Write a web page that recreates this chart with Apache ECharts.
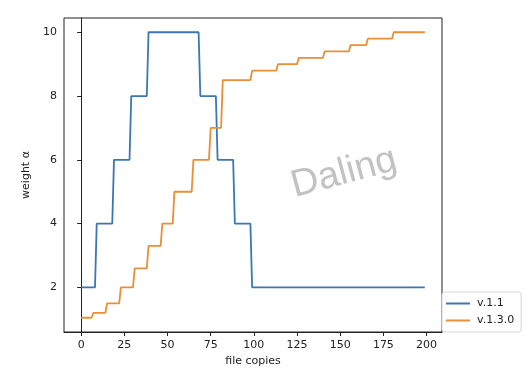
<!DOCTYPE html>
<html>
<head>
<meta charset="utf-8">
<script src="https://cdn.jsdelivr.net/npm/echarts@6/dist/echarts.min.js"></script>
<style>
  html, body { margin: 0; padding: 0; background: #fff; }
  #chart { width: 532px; height: 378px; }
</style>
</head>
<body>
<div id="chart"></div>
<script>
// breakpoints of the two step-like curves (x = file copies, y = weight)
const v11X = [0, 8, 9, 18, 19, 28, 29, 38, 39, 68, 69, 78, 79, 88, 89, 98, 99, 199];
const v11Y = [2, 2, 4, 4, 6, 6, 8, 8, 10, 10, 8, 8, 6, 6, 4, 4, 2, 2];

const v130X = [0, 6, 7, 14, 15, 22, 23, 30, 31, 38, 39, 46, 47, 53, 54, 64, 65, 74, 75, 81, 82,
               98, 99, 113, 114, 125, 126, 140, 141, 155, 156, 165, 166, 180, 181, 199];
const v130Y = [1.05, 1.05, 1.2, 1.2, 1.5, 1.5, 2.0, 2.0, 2.6, 2.6, 3.3, 3.3, 4.0, 4.0, 5.0, 5.0, 6.0, 6.0, 7.0, 7.0, 8.5,
               8.5, 8.8, 8.8, 9.0, 9.0, 9.2, 9.2, 9.4, 9.4, 9.6, 9.6, 9.8, 9.8, 10.0, 10.0];

const xTicks = [0, 25, 50, 75, 100, 125, 150, 175, 200];
const yTicks = [2, 4, 6, 8, 10];
const seriesNames = ['v.1.1', 'v.1.3.0'];

const zip = (xs, ys) => xs.map((x, i) => [x, ys[i]]);

const font = 'DejaVu Sans';
const chart = echarts.init(document.getElementById('chart'), null, { renderer: 'canvas' });

chart.setOption({
  animation: false,
  backgroundColor: '#fff',
  textStyle: { fontFamily: font },
  grid: {
    left: 64, right: 90, top: 18, bottom: 46,
    show: true, borderColor: '#222', borderWidth: 1, backgroundColor: 'transparent'
  },
  xAxis: {
    type: 'value', min: -9.95, max: 208.95,
    name: 'file copies', nameLocation: 'middle', nameGap: 24,
    nameTextStyle: { color: '#222', fontSize: 11, fontFamily: font },
    axisLine: { show: true, lineStyle: { color: '#222' } },
    axisTick: { show: true, inside: false, length: 4, lineStyle: { color: '#222' }, customValues: xTicks },
    axisLabel: { color: '#222', fontSize: 11, fontFamily: font, margin: 8, customValues: xTicks },
    splitLine: { show: false }
  },
  yAxis: {
    type: 'value', min: 0.6025, max: 10.4475,
    name: 'weight α', nameLocation: 'middle', nameGap: 26,
    nameTextStyle: { color: '#222', fontSize: 11, fontFamily: font },
    axisLine: { show: true, lineStyle: { color: '#222' } },
    axisTick: { show: true, inside: false, length: 4, lineStyle: { color: '#222' }, customValues: yTicks },
    axisLabel: { color: '#222', fontSize: 11, fontFamily: font, margin: 7, customValues: yTicks },
    splitLine: { show: false }
  },
  legend: {
    orient: 'vertical', left: 442, top: 292,
    backgroundColor: '#fff', borderColor: '#d6d6d6', borderWidth: 1, borderRadius: 3,
    padding: [6, 7, 6, 4], itemGap: 6, itemWidth: 24, itemHeight: 2, icon: 'rect',
    textStyle: { color: '#222', fontSize: 11, fontFamily: font, padding: [0, 0, 0, 2] },
    data: seriesNames
  },
  graphic: [{
    type: 'text', x: 344, y: 173, rotation: 15 * Math.PI / 180,
    style: {
      text: 'Daling', fontSize: 38, fontFamily: 'Liberation Sans',
      fill: '#c2c2c2', align: 'center', verticalAlign: 'middle'
    },
    z: 100
  }],
  series: [
    {
      name: seriesNames[0], type: 'line', data: zip(v11X, v11Y),
      symbol: 'none', lineStyle: { color: '#3b77b2', width: 1.8 }, itemStyle: { color: '#3b77b2' }
    },
    {
      name: seriesNames[1], type: 'line', data: zip(v130X, v130Y),
      symbol: 'none', lineStyle: { color: '#e98f36', width: 1.8 }, itemStyle: { color: '#e98f36' }
    }
  ]
});
</script>
</body>
</html>
